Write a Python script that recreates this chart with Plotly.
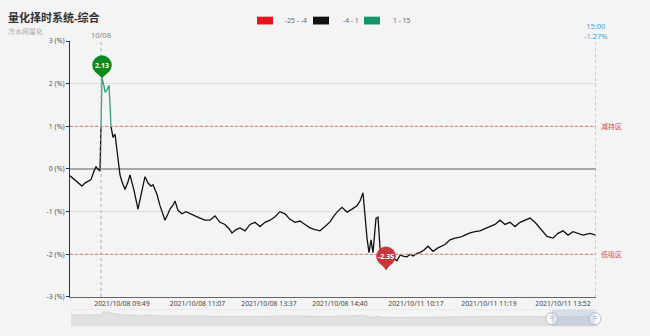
import plotly.graph_objects as go

W, H = 650, 336

# ---- data (sample index, percent) ----
pos = [0, 3, 6, 9, 12, 15, 18, 21, 24, 26, 28, 30, 31, 32, 34, 35, 37, 39, 40, 41,
       43, 45, 47, 50, 52, 55, 58, 60, 64, 68, 72, 75, 78, 81, 83, 87, 90, 93, 95, 98,
       100, 103, 105, 108, 112, 116, 120, 125, 130, 135, 140, 145, 150, 155, 159, 162,
       166, 170, 175, 180, 185, 190, 195, 200, 205, 210, 215, 220, 225, 230, 235, 240,
       245, 250, 255, 260, 264, 267, 272, 277, 282, 287, 290, 293, 297, 299, 301, 303,
       306, 308, 310, 313, 316, 320, 323, 327, 330, 334, 337, 340, 343, 347, 350, 354,
       358, 363, 368, 375, 380, 385, 390, 395, 400, 405, 410, 415, 420, 425, 430, 435,
       440, 445, 450, 455, 460, 465, 470, 477, 483, 488, 493, 498, 503, 508, 513, 520, 526]
pct = [-0.16, -0.22, -0.30, -0.36, -0.40, -0.33, -0.29, -0.25, -0.05, 0.05, 0.00, -0.05,
       1.00, 2.13, 1.95, 1.80, 1.85, 1.96, 1.50, 1.00,
       0.74, 0.82, 0.43, -0.14, -0.30, -0.48, -0.30, -0.14, -0.50, -0.94, -0.50, -0.18,
       -0.33, -0.40, -0.37, -0.60, -0.86, -1.05, -1.20, -1.05,
       -0.94, -0.85, -0.75, -0.97, -1.05, -1.00, -1.05, -1.10, -1.15, -1.20, -1.20, -1.10,
       -1.25, -1.30, -1.40, -1.50,
       -1.42, -1.38, -1.45, -1.30, -1.25, -1.35, -1.25, -1.20, -1.12, -1.00, -1.05, -1.18,
       -1.25, -1.22, -1.30, -1.38,
       -1.42, -1.45, -1.35, -1.24, -1.10, -1.01, -0.90, -1.01, -0.94, -0.86, -0.75, -0.56,
       -1.62, -1.96, -1.66, -1.96,
       -1.16, -1.13, -1.85, -2.10, -2.35, -2.20, -2.08, -2.15, -2.02, -2.05, -2.06, -2.00,
       -2.04, -1.98, -1.96, -1.90,
       -1.81, -1.93, -1.85, -1.77, -1.66, -1.62, -1.60, -1.55, -1.50, -1.47, -1.45, -1.40,
       -1.35, -1.30, -1.20, -1.30,
       -1.25, -1.35, -1.25, -1.20, -1.15, -1.25, -1.39, -1.58, -1.62, -1.51, -1.45, -1.55,
       -1.47, -1.51, -1.55, -1.51, -1.55]

tick_pos = [52, 127.5, 199, 270, 346, 419, 493]
tick_labels = ["2021/10/08 09:49", "2021/10/08 11:07", "2021/10/08 13:37",
               "2021/10/08 14:40", "2021/10/11 10:17", "2021/10/11 11:19",
               "2021/10/11 13:52"]
y_ticks = [-3, -2, -1, 0, 1, 2, 3]
y_labels = ["%d (%%)" % v for v in y_ticks]

pieces = [("-25 - -4", "#e8141c"), ("-4 - 1", "#111111"), ("1 - 15", "#14956b")]
upper_line, lower_line = 1, -2
day_mark = 31
day_label = "10/08"
end_label = "15:00<br>-1.27%"

FONT = "Noto Sans, Noto Sans CJK SC, sans-serif"

green_y = [v if v >= 1 else None for v in pct]
black_y = [v if v <= 1 else None for v in pct]

fig = go.Figure()
fig.add_trace(go.Scatter(x=pos, y=black_y, mode="lines", line=dict(color="#111111", width=1.3),
                         hoverinfo="skip", showlegend=False))
fig.add_trace(go.Scatter(x=pos, y=green_y, mode="lines", line=dict(color="#2aa07c", width=1.3),
                         hoverinfo="skip", showlegend=False))

# mini chart in slider
base = min(pct) - 6
fig.add_trace(go.Scatter(x=pos, y=[base] * len(pos), mode="lines", line=dict(width=0),
                         xaxis="x2", yaxis="y2", showlegend=False, hoverinfo="skip"))
fig.add_trace(go.Scatter(x=pos, y=pct, mode="lines", fill="tonexty", fillcolor="#e1e1e1",
                         line=dict(color="#d0d0d0", width=0.8), xaxis="x2", yaxis="y2",
                         showlegend=False, hoverinfo="skip"))
# slider handles
win = [480, 523]
fig.add_trace(go.Scatter(x=win, y=[0.45, 0.45], mode="markers+text", text=["=", "="],
                         textfont=dict(size=8, color="#888"), textposition="middle center",
                         marker=dict(size=12, color="white", line=dict(color="#bbb", width=1)),
                         xaxis="x2", yaxis="y3", showlegend=False, hoverinfo="skip",
                         cliponaxis=False))

xd = [70 / W, 596 / W]
fig.update_layout(
    width=W, height=H, margin=dict(l=0, r=0, t=0, b=0),
    paper_bgcolor="#f4f4f4", plot_bgcolor="#f4f4f4",
    font=dict(family=FONT, size=8, color="#555"),
    xaxis=dict(domain=xd, range=[0, 526], tickvals=tick_pos, ticktext=tick_labels,
               showgrid=False, zeroline=False, showline=True, linecolor="#666",
               ticks="", tickfont=dict(size=6.8, color="#444"), fixedrange=True),
    yaxis=dict(domain=[1 - 300 / H, 1 - 37 / H], range=[-3, 3], tickvals=y_ticks,
               ticktext=y_labels, showgrid=True, gridcolor="#dedede", gridwidth=1,
               zeroline=True, zerolinecolor="#a8a8a8", zerolinewidth=2,
               showline=True, linecolor="#333", ticks="outside", ticklen=3,
               tickcolor="#333", tickfont=dict(size=7, color="#555"), fixedrange=True),
    xaxis2=dict(domain=[71 / W, 598 / W], range=[0, 526], anchor="y2", visible=False),
    yaxis2=dict(domain=[1 - 330 / H, 1 - 313 / H], range=[base, max(pct) + 1.5], anchor="x2",
                visible=False),
    yaxis3=dict(domain=[1 - 330 / H, 1 - 313 / H], range=[0, 1], anchor="x2",
                visible=False, overlaying="y2"),
)

shapes = []
# slider frame and window
shapes.append(dict(type="rect", xref="x2", yref="y3", x0=0, x1=526, y0=0, y1=1,
                   line=dict(color="#e2e2e2", width=1), layer="below"))
shapes.append(dict(type="rect", xref="x2", yref="y3", x0=win[0], x1=win[1], y0=0, y1=1,
                   fillcolor="rgba(160,180,215,0.35)", line=dict(width=0)))
# mark lines
for yv in (upper_line, lower_line):
    shapes.append(dict(type="line", xref="x", yref="y", x0=0, x1=526, y0=yv, y1=yv,
                       line=dict(color="#d97a75", width=1, dash="3px,2px")))
shapes.append(dict(type="line", xref="x", yref="y", x0=day_mark, x1=day_mark, y0=-3, y1=3,
                   line=dict(color="#aaaaaa", width=1, dash="dot")))
shapes.append(dict(type="line", xref="x", yref="paper", x0=pos[-1], x1=pos[-1],
                   y0=1 - 300 / H, y1=1 - 36 / H,
                   line=dict(color="#7fb8df", width=1.2, dash="dot")))

# pins for max/min
imax = pct.index(max(pct))
imin = pct.index(min(pct))
for i, col in ((imax, "#0b8a1e"), (imin, "#c8373a")):
    shapes.append(dict(type="circle", xref="x", yref="y", xsizemode="pixel", ysizemode="pixel",
                       xanchor=pos[i], yanchor=pct[i], x0=-9.5, x1=9.5, y0=3.5, y1=22.5,
                       fillcolor=col, line=dict(color=col, width=0.5)))
    shapes.append(dict(type="path", xref="x", yref="y", xsizemode="pixel", ysizemode="pixel",
                       xanchor=pos[i], yanchor=pct[i], path="M 0 0 L -6.5 6.5 L 6.5 6.5 Z",
                       fillcolor=col, line=dict(color=col, width=0.5)))

# legend swatches
ly0, ly1 = 1 - 20 / H, 1 - 12 / H
for (lab, col), x0 in zip(pieces, (257, 313, 364)):
    shapes.append(dict(type="rect", xref="paper", yref="paper", x0=x0 / W, x1=(x0 + 16) / W,
                       y0=ly0, y1=ly1, fillcolor=col, line=dict(width=0)))
fig.update_layout(shapes=shapes)

ann = []
for (lab, col), x0 in zip(pieces, (283, 341, 391)):
    ann.append(dict(xref="paper", yref="paper", x=x0 / W, y=1 - 16 / H, text=lab,
                    showarrow=False, xanchor="left", yanchor="middle",
                    font=dict(size=6.8, color="#666")))
ann.append(dict(xref="paper", yref="paper", x=6 / W, y=1 - 13 / H, text="<b>量化择时系统-综合</b>",
                showarrow=False, xanchor="left", yanchor="middle",
                font=dict(size=11, color="#333")))
ann.append(dict(xref="paper", yref="paper", x=6 / W, y=1 - 27 / H, text="冷水网量化",
                showarrow=False, xanchor="left", yanchor="middle",
                font=dict(size=7, color="#aaa")))
ann.append(dict(xref="x", yref="paper", x=day_mark, y=1 - 31 / H, text=day_label,
                showarrow=False, xanchor="center", yanchor="middle",
                font=dict(size=7.5, color="#888")))
ann.append(dict(xref="x", yref="paper", x=pos[-1], y=1 - 27 / H, text=end_label,
                showarrow=False, xanchor="center", yanchor="middle",
                font=dict(size=7.5, color="#4a9fd8")))
for yv, txt in ((upper_line, "减持区"), (lower_line, "低吸区")):
    ann.append(dict(xref="paper", yref="y", x=599 / W, y=yv, text=txt, showarrow=False,
                    xanchor="left", yanchor="middle", font=dict(size=7, color="#d0504a")))
for i in (imax, imin):
    ann.append(dict(xref="x", yref="y", x=pos[i], y=pct[i], yshift=13, text="<b>%.2f</b>" % pct[i],
                    showarrow=False, xanchor="center", yanchor="middle",
                    font=dict(size=7, color="white")))
fig.update_layout(annotations=ann)

fig.write_html("out.html")
